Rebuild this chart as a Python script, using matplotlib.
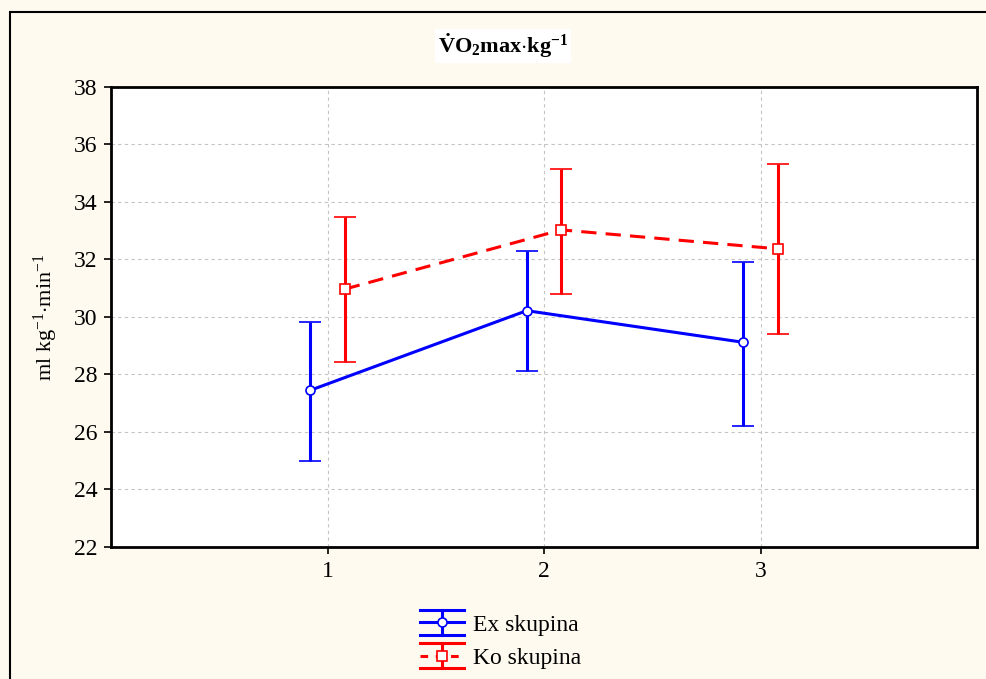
import numpy as np
import matplotlib
matplotlib.use('Agg')
import matplotlib.pyplot as plt
from matplotlib.lines import Line2D
from matplotlib.patches import Rectangle
from matplotlib.legend_handler import HandlerBase

plt.rcParams['font.family'] = ['Liberation Serif', 'DejaVu Serif']
plt.rcParams['mathtext.fontset'] = 'custom'
plt.rcParams['mathtext.rm'] = 'Liberation Serif'
plt.rcParams['mathtext.it'] = 'Liberation Serif:italic'
plt.rcParams['mathtext.bf'] = 'Liberation Serif:bold'

# data
times = [1, 2, 3]
ex_mean = [27.45, 30.22, 29.12]
ex_low = [24.98, 28.12, 26.21]
ex_high = [29.83, 32.30, 31.91]
ko_mean = [30.97, 33.03, 32.37]
ko_low = [28.43, 30.80, 29.41]
ko_high = [33.48, 35.15, 35.32]
series_names = ['Ex skupina', 'Ko skupina']

bg = '#fffaf0'
blue = '#0000ff'
red = '#ff0000'

fig = plt.figure(figsize=(9.86, 6.79), dpi=100, facecolor=bg)
ax = fig.add_axes([0.1126, 0.1944, 0.8783, 0.6775])
ax.set_facecolor('white')

x = np.array(times, dtype=float)
off = 0.08

def draw(xs, mean, low, high, color, ls, marker):
    mean = np.array(mean)
    yerr = [mean - np.array(low), np.array(high) - mean]
    ax.errorbar(xs, mean, yerr=yerr, color=color, ls=ls, lw=2.2,
                elinewidth=2.2, capsize=8, capthick=2.2,
                marker=marker, ms=6.5, mfc='white', mec=color, mew=1.2, zorder=3)

draw(x - off, ex_mean, ex_low, ex_high, blue, '-', 'o')
draw(x + off, ko_mean, ko_low, ko_high, red, (0, (5, 3)), 's')

ax.set_xlim(0, 4)
ax.set_ylim(22, 38)
ax.set_xticks(times)
ax.set_yticks(np.arange(22, 39, 2))
ax.tick_params(labelsize=17, direction='out', length=5, width=1.2, pad=5)
ax.grid(True, color='#c4c4c4', ls=(0, (3, 3)), lw=0.8)
ax.set_axisbelow(True)
for s in ax.spines.values():
    s.set_linewidth(2)

ax.set_ylabel(r'ml kg$^{-1}$$\cdot$min$^{-1}$', fontsize=16, labelpad=10)

fig.text(503 / 986, 1 - 46 / 679, r'$\mathbf{\dot{V}O_2max{\cdot}kg^{-1}}$',
         ha='center', va='center', fontsize=16,
         bbox=dict(facecolor='white', edgecolor='none', pad=2))

# figure frame
fig.patches.append(Rectangle((10 / 986, -0.5), 2, 0.5 + 1 - 12 / 679,
                             transform=fig.transFigure,
                             fill=False, edgecolor='black', lw=1.5))


class ErrHandler(HandlerBase):
    def create_artists(self, legend, orig_handle, xdescent, ydescent,
                       width, height, fontsize, trans):
        color, ls, marker = orig_handle
        mid = height / 2 - ydescent
        half = height * 0.6
        arts = [
            Line2D([0, width], [mid + half] * 2, color=color, lw=2.2),
            Line2D([0, width], [mid - half] * 2, color=color, lw=2.2),
            Line2D([width / 2] * 2, [mid - half, mid + half], color=color, lw=2.2),
            Line2D([0, width], [mid] * 2, color=color, lw=2.2, ls=ls),
            Line2D([width / 2], [mid], color=color, marker=marker, ms=6.5,
                   mfc='white', mec=color, mew=1.2),
        ]
        for a in arts:
            a.set_transform(trans)
        return arts


handles = [(blue, '-', 'o'), (red, (0, (2.5, 2.5)), 's')]
fig.legend(handles, series_names, handler_map={tuple: ErrHandler()},
           loc='center', bbox_to_anchor=(0.508, 0.057), frameon=False,
           fontsize=17, handlelength=1.85, handleheight=1.0,
           labelspacing=0.4, handletextpad=0.4)

fig.savefig('out.png', dpi=100, facecolor=bg)
